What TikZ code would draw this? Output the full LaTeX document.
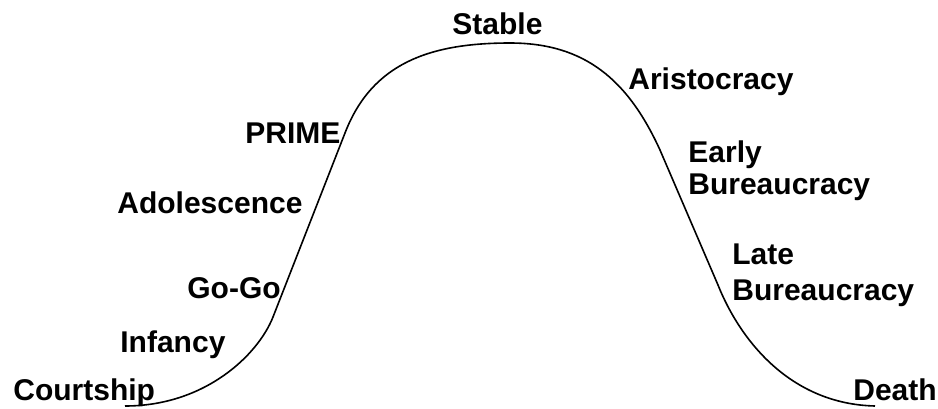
\documentclass[tikz,border=0pt]{standalone}
\usepackage{fontspec}
\setmainfont{Liberation Sans}
\begin{document}
\begin{tikzpicture}[x=0.5pt,y=-0.5pt,
  lbl/.style={anchor=base west,inner sep=0pt,font=\bfseries\fontsize{15}{17}\selectfont,align=left},
  curve/.style={line width=0.8pt,black}]
\useasboundingbox (0,0) rectangle (938,408);
% curve
\coordinate (c0) at (125,406);
\coordinate (c1) at (273,317);
\coordinate (c2) at (345,133);
\coordinate (c3) at (510,43);
\coordinate (c4) at (660,150);
\coordinate (c5) at (718,285);
\coordinate (c6) at (875,406);
\draw[curve] (c0) .. controls (205,406) and (258,355) .. (c1)
  -- (c2) .. controls (372,63) and (430,43) .. (c3)
  .. controls (585,43) and (628,80) .. (c4)
  -- (c5) .. controls (740,340) and (790,404) .. (c6);
% labels
\node[lbl] (courtship) at (13,400) {Courtship};
\node[lbl] (infancy) at (120,352) {Infancy};
\node[lbl] (gogo) at (187,298) {Go-Go};
\node[lbl] (adol) at (117,213) {Adolescence};
\node[lbl] (prime) at (245,143) {PRIME};
\node[lbl] (stable) at (452,34) {Stable};
\node[lbl] (aristo) at (628,89) {Aristocracy};
\node[lbl] (early) at (688,194) {Early\\[-1pt]Bureaucracy};
\node[lbl] (late) at (732,300) {Late\\[1pt]Bureaucracy};
\node[lbl] (death) at (853,400) {Death};
\end{tikzpicture}
\end{document}
